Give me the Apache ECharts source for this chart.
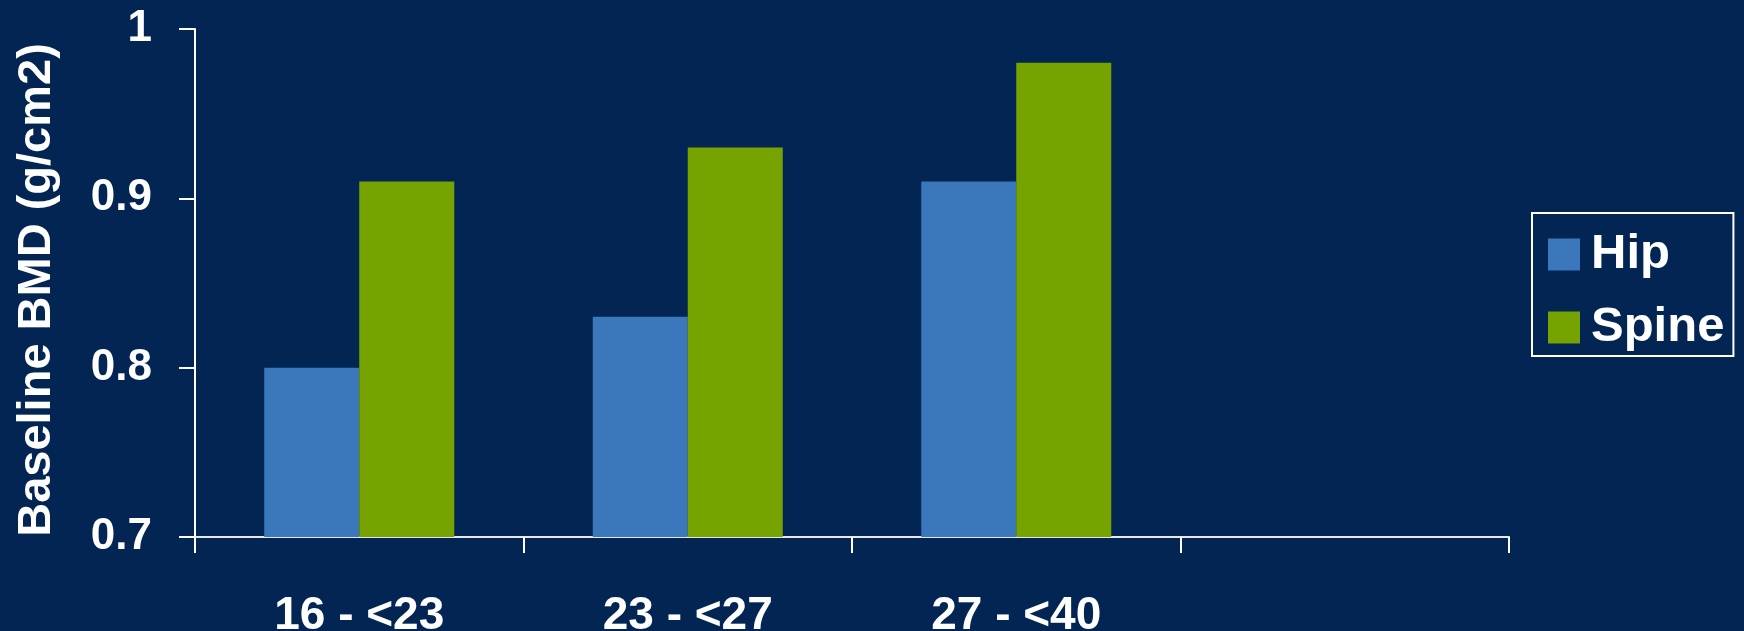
<!DOCTYPE html>
<html>
<head>
<meta charset="utf-8">
<script src="https://cdn.jsdelivr.net/npm/echarts@6/dist/echarts.min.js"></script>
<style>
html,body{margin:0;padding:0;background:#022554;}
#chart{width:1744px;height:631px;}
</style>
</head>
<body>
<div id="chart"></div>
<script>
const categories = ['16 - <23', '23 - <27', '27 - <40', ''];
const hipValues = [0.80, 0.83, 0.91, null];
const spineValues = [0.91, 0.93, 0.98, null];
const seriesNames = ['Hip', 'Spine'];
const yAxisName = 'Baseline BMD (g/cm2)';

const FONT = '"Liberation Sans", Arial, sans-serif';
const chart = echarts.init(document.getElementById('chart'));
chart.setOption({
  backgroundColor: '#022554',
  animation: false,
  grid: { left: 195, right: 235, top: 29, bottom: 94, containLabel: false, outerBoundsMode: 'none' },
  legend: {
    orient: 'vertical',
    left: 1532, top: 213,
    padding: [17, 9, 4, 16],
    itemWidth: 32, itemHeight: 32, itemGap: 24,
    borderColor: '#ffffff', borderWidth: 2,
    icon: 'rect',
    textStyle: { color: '#ffffff', fontSize: 49, fontWeight: 'bold', fontFamily: FONT, lineHeight: 46, padding: [0,0,0,6] },
    data: seriesNames
  },
  xAxis: {
    type: 'category',
    data: categories,
    axisLine: { lineStyle: { color: '#e8e8e8', width: 2 } },
    axisTick: { show: true, length: 16, lineStyle: { color: '#ffffff', width: 2 } },
    axisLabel: { color: '#ffffff', fontSize: 46, fontWeight: 'bold', fontFamily: FONT, margin: 56 }
  },
  yAxis: {
    type: 'value',
    min: 0.7, max: 1, interval: 0.1,
    name: yAxisName,
    nameLocation: 'middle',
    nameGap: 134,
    nameTextStyle: { color: '#ffffff', fontSize: 47, fontWeight: 'bold', fontFamily: FONT, padding: [0, 14, 0, 0] },
    axisLine: { show: true, lineStyle: { color: '#ffffff', width: 2 } },
    axisTick: { show: true, length: 16, lineStyle: { color: '#ffffff', width: 2 } },
    splitLine: { show: false },
    axisLabel: { color: '#ffffff', fontSize: 44, fontWeight: 'bold', fontFamily: FONT, margin: 43 }
  },
  series: [
    { name: seriesNames[0], type: 'bar', data: hipValues, barWidth: 95, barGap: '0%', itemStyle: { color: '#3a77bb' } },
    { name: seriesNames[1], type: 'bar', data: spineValues, barWidth: 95, barGap: '0%', itemStyle: { color: '#76a300' } }
  ]
});
</script>
</body>
</html>
